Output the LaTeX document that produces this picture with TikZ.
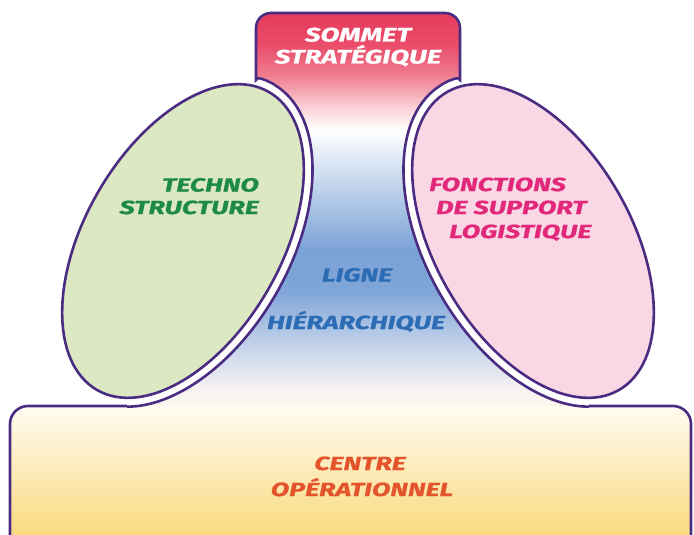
\documentclass[tikz,border=0pt]{standalone}
\usepackage{fontspec}
\newfontfamily\labfont{Fira Sans}[FakeStretch=1.42, FakeBold=0.8]
\definecolor{lineP}{HTML}{4A2C82}
\definecolor{greenFill}{HTML}{DCE8C2}
\definecolor{pinkFill}{HTML}{F9D7E5}
\definecolor{tGreen}{HTML}{1D8A45}
\definecolor{tPink}{HTML}{E2287A}
\definecolor{tBlue}{HTML}{2B6CB4}
\definecolor{tOrange}{HTML}{E4542C}
\definecolor{boxTop}{HTML}{FFFBF0}
\definecolor{boxBot}{HTML}{F9D777}
\definecolor{sa}{HTML}{FFF9EC}
\definecolor{sb}{HTML}{F4F1F2}
\definecolor{sc}{HTML}{BFD0EA}
\definecolor{sd}{HTML}{80A5D8}
\definecolor{se}{HTML}{7BA2D6}
\definecolor{sf}{HTML}{C6D7EE}
\definecolor{sg}{HTML}{FFFFFF}
\definecolor{sh}{HTML}{F9CDD4}
\definecolor{si}{HTML}{F07C8F}
\definecolor{sj}{HTML}{EA4D6A}
\definecolor{sk}{HTML}{E63A5C}
\pgfdeclareverticalshading{colshade}{100bp}{color(0bp)=(sa); color(25bp)=(sa); color(28.15bp)=(sb); color(33.8bp)=(sc); color(40.1bp)=(sd); color(45.15bp)=(se); color(53.95bp)=(sf); color(60.25bp)=(sg); color(63.4bp)=(sh); color(67.2bp)=(si); color(70.95bp)=(sj); color(75bp)=(sk); color(100bp)=(sk)}
\begin{document}
\begin{tikzpicture}[x=1pt,y=-1pt,
  outl/.style={draw=lineP, line width=2.6pt},
  lab/.style={font=\labfont\bfseries\itshape\fontsize{19}{21}\selectfont, inner sep=0pt},
  bigl/.style={font=\labfont\bfseries\itshape\fontsize{19.5}{21}\selectfont}]
\useasboundingbox (0,0) rectangle (694,535);
\clip (0,0) rectangle (694,535);
% central column
\path[shading=colshade, rounded corners=15pt] (256,65) -- (256,13) -- (460,13) -- (460,65) .. controls (460,76) and (449.5,79.8) .. (441,85) -- (533,241) -- (589,400) -- (589,412) -- (127,412) -- (127,400) -- (183,241) -- (275,85) .. controls (266.5,79.8) and (256,76) .. cycle;
% bottom box fill
\path[top color=boxTop, bottom color=boxBot, rounded corners=18pt] (10,406) rectangle (691,545);
% halos
\fill[white, rotate around={60:(183,241)}] (183,241) circle[x radius=181pt, y radius=107pt];
\fill[white, rotate around={120:(533,241)}] (533,241) circle[x radius=181pt, y radius=107pt];
\begin{scope}
\clip (183,241) -- (289.7,60) -- (426.3,60) -- (533,241) -- (589,241) -- (589,440) -- (127,440) -- (127,241) -- cycle;
\draw[outl, rotate around={60:(183,241)}] (183,241) circle[x radius=181pt, y radius=107pt];
\draw[outl, rotate around={120:(533,241)}] (533,241) circle[x radius=181pt, y radius=107pt];
\end{scope}
% top box outline
\draw[outl, rounded corners=15pt] (275,85) .. controls (266.5,79.8) and (256,76) .. (256,65) -- (256,13) -- (460,13) -- (460,65) .. controls (460,76) and (449.5,79.8) .. (441,85);
% bottom box outline
\draw[outl, rounded corners=18pt] (127,406) -- (10,406) -- (10,560) -- (691,560) -- (691,406) -- (589,406);
% ellipses
\draw[outl, fill=greenFill, rotate around={60:(183,241)}] (183,241) circle[x radius=172pt, y radius=98pt];
\draw[outl, fill=pinkFill, rotate around={120:(533,241)}] (533,241) circle[x radius=172pt, y radius=98pt];
% texts
\node[lab, bigl, text=white, anchor=base] (som1) at (358,41.5) {SOMMET};
\node[lab, bigl, text=white, anchor=base] (som2) at (358,63.5) {STRATÉGIQUE};
\node[lab, text=tGreen, anchor=base east] (tech1) at (259,191.5) {TECHNO};
\node[lab, text=tGreen, anchor=base east] (tech2) at (259,214) {STRUCTURE};
\node[lab, text=tPink, anchor=base west] (fonc1) at (429,191) {FONCTIONS};
\node[lab, text=tPink, anchor=base west] (fonc2) at (436,214) {DE SUPPORT};
\node[lab, text=tPink, anchor=base west] (fonc3) at (449,238) {LOGISTIQUE};
\node[lab, text=tBlue, anchor=base] (lig1) at (357,281.5) {LIGNE};
\node[lab, text=tBlue, anchor=base] (lig2) at (356,329) {HIÉRARCHIQUE};
\node[lab, text=tOrange, anchor=base] (cen1) at (360,470) {CENTRE};
\node[lab, text=tOrange, anchor=base] (cen2) at (362,496) {OPÉRATIONNEL};
\end{tikzpicture}
\end{document}
